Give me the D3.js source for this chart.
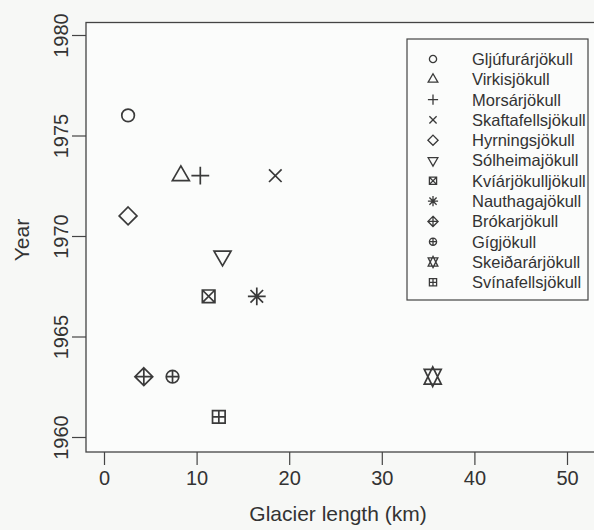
<!DOCTYPE html>
<html>
<head>
<meta charset="utf-8">
<script src="https://cdn.jsdelivr.net/npm/d3@7"></script>
<style>
  body { margin: 0; background: #f7f8f6; }
  text { font-family: "Liberation Sans", Arial, sans-serif; fill: #333; }
</style>
</head>
<body>
<svg id="container" width="594" height="530"></svg>
<script>
let width = 594,
    height = 530;

// glacier names, lengths (km) and year, in legend order (R pch 1..12)
let glaciers = ["Gljúfurárjökull", "Virkisjökull", "Morsárjökull", "Skaftafellsjökull",
    "Hyrningsjökull", "Sólheimajökull", "Kvíárjökulljökull", "Nauthagajökull",
    "Brókarjökull", "Gígjökull", "Skeiðarárjökull", "Svínafellsjökull"]
let lengths = [2.6, 8.3, 10.4, 18.5, 2.6, 12.8, 11.3, 16.5, 4.3, 7.4, 35.5, 12.4]
let years = [1976, 1973, 1973, 1973, 1971, 1969, 1967, 1967, 1963, 1963, 1963, 1961]
let pch = [1, 2, 3, 4, 5, 6, 7, 8, 9, 10, 11, 12]

let xTicks = [0, 10, 20, 30, 40, 50]
let yTicks = [1960, 1965, 1970, 1975, 1980]

let ink = "#3a3a3a"

let svg = d3.select("#container")

let xScale = d3.scaleLinear().domain([0, 50]).range([104, 567])
let yScale = d3.scaleLinear().domain([1960, 1980]).range([437, 35])

// plot box (right side runs off the page like the original)
svg.append("rect")
    .attr("x", 86)
    .attr("y", 22.5)
    .attr("width", 530)
    .attr("height", 429.5)
    .attr("fill", "#fbfcfb")
    .attr("stroke", "#444")
    .attr("stroke-width", 1.3)

let xAxis = svg.append("g")
    .attr("transform", "translate(0,452)")
    .call(d3.axisBottom(xScale).tickValues(xTicks).tickSize(13).tickPadding(6))
xAxis.select(".domain").remove()
xAxis.selectAll("line").attr("stroke", "#444").attr("stroke-width", 1.2)
xAxis.selectAll("text").attr("font-size", "20px").attr("fill", "#333")
    .style("font-family", "Liberation Sans, Arial, sans-serif")

let yAxis = svg.append("g")
    .attr("transform", "translate(86,0)")
    .call(d3.axisLeft(yScale).tickValues(yTicks).tickSize(14).tickFormat(d3.format("d")))
yAxis.select(".domain").remove()
yAxis.selectAll("line").attr("stroke", "#444").attr("stroke-width", 1.2)
yAxis.selectAll("text")
    .attr("x", null).attr("dy", null)
    .attr("text-anchor", "middle")
    .attr("transform", "translate(-18,0) rotate(-90)")
    .attr("font-size", "20px").attr("fill", "#333")
    .style("font-family", "Liberation Sans, Arial, sans-serif")

svg.append("text")
    .attr("x", 338)
    .attr("y", 521)
    .attr("text-anchor", "middle")
    .attr("font-size", "21px")
    .text("Glacier length (km)")

svg.append("text")
    .attr("transform", "translate(29,240) rotate(-90)")
    .attr("text-anchor", "middle")
    .attr("font-size", "21px")
    .text("Year")

// R style plotting symbols, s = radius of the basic circle
function symbolPath(p, s) {
    let path = d3.path()
    let tr0 = 1.5551203, tr1 = tr0 * Math.sqrt(3) / 2, tr2 = tr0 / 2
    let q = Math.SQRT2 * s
    function plus(h) { path.moveTo(-h, 0); path.lineTo(h, 0); path.moveTo(0, -h); path.lineTo(0, h) }
    function cross(h) { path.moveTo(-h, -h); path.lineTo(h, h); path.moveTo(-h, h); path.lineTo(h, -h) }
    function square(h) { path.rect(-h, -h, 2 * h, 2 * h) }
    function diamond(h) { path.moveTo(0, -h); path.lineTo(h, 0); path.lineTo(0, h); path.lineTo(-h, 0); path.closePath() }
    function circle(r) { path.moveTo(r, 0); path.arc(0, 0, r, 0, 2 * Math.PI) }
    function tri(dir, r, yc, xc) {
        path.moveTo(0, -dir * r); path.lineTo(xc, dir * yc); path.lineTo(-xc, dir * yc); path.closePath()
    }
    if (p == 1) circle(s)
    if (p == 2) tri(1, tr0 * s, tr2 * s, tr1 * s)
    if (p == 3) plus(q)
    if (p == 4) cross(s)
    if (p == 5) diamond(q)
    if (p == 6) tri(-1, tr0 * s, tr2 * s, tr1 * s)
    if (p == 7) { square(s); cross(s) }
    if (p == 8) { cross(s); plus(q) }
    if (p == 9) { diamond(q); plus(q) }
    if (p == 10) { circle(s); plus(s) }
    if (p == 11) {
        let yc = 0.5 * (tr2 * s + tr0 * s)
        tri(1, tr0 * s, yc, tr1 * s)
        tri(-1, tr0 * s, yc, tr1 * s)
    }
    if (p == 12) { square(s); plus(s) }
    return path.toString()
}

let data = glaciers.map((g, i) => ({ name: g, len: lengths[i], year: years[i], pch: pch[i] }))

svg.append("g")
    .selectAll("path")
    .data(data)
    .enter()
    .append("path")
    .attr("transform", d => "translate(" + xScale(d.len) + "," + yScale(d.year) + ")")
    .attr("d", d => symbolPath(d.pch, 6.3))
    .attr("fill", "none")
    .attr("stroke", ink)
    .attr("stroke-width", 1.7)

// legend
let legend = svg.append("g")
svg.append("rect")
    .attr("x", 407)
    .attr("y", 39)
    .attr("width", 181)
    .attr("height", 261)
    .attr("fill", "none")
    .attr("stroke", "#444")
    .attr("stroke-width", 1.2)

let rows = legend.selectAll("g")
    .data(data)
    .enter()
    .append("g")
    .attr("transform", (d, i) => "translate(433," + (59 + i * 20.3) + ")")

rows.append("path")
    .attr("d", d => symbolPath(d.pch, 3.6))
    .attr("fill", "none")
    .attr("stroke", ink)
    .attr("stroke-width", 1.3)

rows.append("text")
    .attr("x", 39)
    .attr("dy", "0.36em")
    .attr("font-size", "16.5px")
    .text(d => d.name)
</script>
</body>
</html>
